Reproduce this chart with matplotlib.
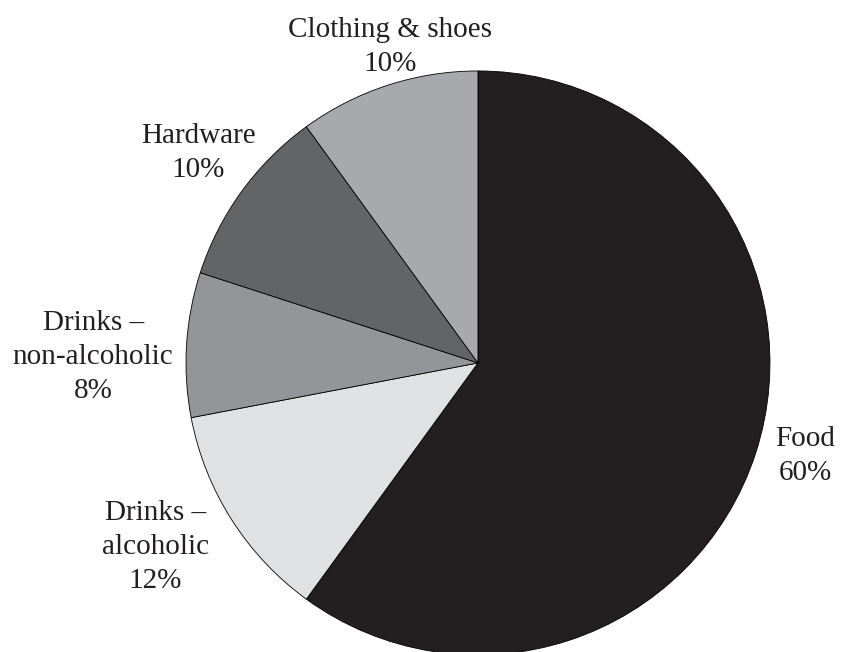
import matplotlib
matplotlib.use("Agg")
import matplotlib.pyplot as plt

# spending shares, drawn clockwise from 12 o'clock
categories = ["Food", "Drinks –\nalcoholic", "Drinks –\nnon-alcoholic", "Hardware", "Clothing & shoes"]
shares = [60, 12, 8, 10, 10]
colors = ["#231f20", "#e0e1e2", "#939598", "#636466", "#a7a9ac"]

# label block centres, in units of the pie radius
label_pos = [(1.12, -0.32), (-1.105, -0.632), (-1.318, 0.022), (-0.958, 0.72), (-0.30, 1.082)]

plt.rcParams["font.family"] = ["Liberation Serif", "DejaVu Serif"]

fig = plt.figure(figsize=(8.45, 6.52), dpi=100)
ax = fig.add_axes([0, 0, 1, 1])
ax.pie(shares, colors=colors, startangle=90, counterclock=False, radius=1.0,
       wedgeprops=dict(edgecolor="black", linewidth=0.6))

for name, val, (x, y) in zip(categories, shares, label_pos):
    ax.text(x, y, f"{name}\n{val}%", ha="center", va="center", fontsize=21,
            color="#231f20", linespacing=1.4)

ax.set_aspect("auto")
ax.set_xlim(-1.637, 1.257)
ax.set_ylim(-0.990, 1.243)
ax.axis("off")

fig.savefig("out.png", dpi=100)
